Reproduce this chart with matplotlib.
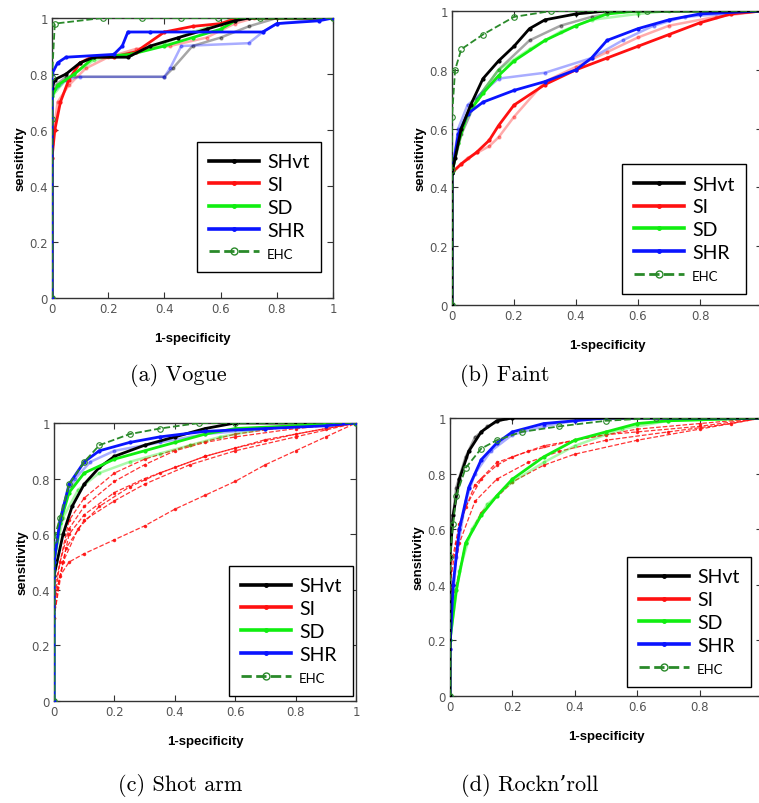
import matplotlib
matplotlib.use("Agg")
import matplotlib.pyplot as plt
from matplotlib.lines import Line2D
import numpy as np

# -------------------------------------------------------------------
# ROC points, (1-specificity, sensitivity)
# -------------------------------------------------------------------
# (a) Vogue
vogue_ehc = [(0, 0), (0, 0.64), (0, 0.79), (0.01, 0.98), (0.18, 1), (0.32, 1),
             (0.46, 1), (0.59, 1), (0.74, 1), (1, 1)]
vogue_shvt = [(0, 0), (0, 0.75), (0.01, 0.78), (0.05, 0.8), (0.1, 0.84), (0.15, 0.86),
              (0.27, 0.86), (0.35, 0.9), (0.45, 0.93), (0.55, 0.96), (0.65, 0.99),
              (0.7, 1), (1, 1)]
vogue_shvt_faint = [(0, 0.75), (0.05, 0.79), (0.4, 0.79), (0.43, 0.82), (0.5, 0.9),
                    (0.6, 0.93), (0.7, 0.97), (0.8, 1), (1, 1)]
vogue_si = [(0, 0), (0, 0.5), (0.01, 0.6), (0.03, 0.7), (0.06, 0.78), (0.1, 0.84),
            (0.14, 0.86), (0.22, 0.86), (0.3, 0.88), (0.4, 0.95), (0.5, 0.97),
            (0.6, 0.98), (0.66, 1), (1, 1)]
vogue_si_faint = [(0, 0.55), (0.02, 0.7), (0.06, 0.76), (0.12, 0.82), (0.2, 0.86),
                  (0.3, 0.89), (0.42, 0.9), (0.55, 0.93), (0.65, 0.98), (0.72, 1), (1, 1)]
vogue_sd = [(0, 0), (0, 0.72), (0.02, 0.76), (0.08, 0.8), (0.15, 0.86), (0.28, 0.87),
            (0.4, 0.9), (0.5, 0.93), (0.6, 0.96), (0.67, 1), (1, 1)]
vogue_sd_faint = [(0, 0.72), (0.05, 0.78), (0.15, 0.85), (0.3, 0.88), (0.4, 0.91),
                  (0.5, 0.95), (0.6, 0.98), (0.65, 1), (1, 1)]
vogue_shr = [(0, 0), (0, 0.8), (0.02, 0.84), (0.05, 0.86), (0.22, 0.87), (0.25, 0.9),
             (0.27, 0.95), (0.35, 0.95), (0.75, 0.95), (0.8, 0.98), (0.95, 0.99), (1, 1)]
vogue_shr_faint = [(0, 0.73), (0.05, 0.78), (0.1, 0.79), (0.4, 0.79), (0.42, 0.82),
                   (0.46, 0.9), (0.7, 0.91), (0.75, 0.95), (0.8, 0.98), (1, 1)]

# (b) Faint
faint_ehc = [(0, 0), (0, 0.46), (0, 0.64), (0.01, 0.8), (0.03, 0.87), (0.1, 0.92),
             (0.2, 0.98), (0.32, 1), (0.5, 1), (0.63, 1), (1, 1)]
faint_shvt = [(0, 0), (0, 0.45), (0.01, 0.5), (0.03, 0.6), (0.06, 0.68), (0.1, 0.77),
              (0.15, 0.83), (0.2, 0.88), (0.25, 0.94), (0.3, 0.97), (0.4, 0.99),
              (0.5, 1), (1, 1)]
faint_shvt_faint = [(0, 0.45), (0.03, 0.58), (0.08, 0.7), (0.15, 0.8), (0.25, 0.9),
                    (0.35, 0.95), (0.45, 0.98), (0.55, 1), (1, 1)]
faint_si = [(0, 0), (0, 0.45), (0.03, 0.48), (0.08, 0.52), (0.12, 0.56), (0.15, 0.61),
            (0.2, 0.68), (0.3, 0.75), (0.4, 0.8), (0.5, 0.84), (0.6, 0.88), (0.7, 0.92),
            (0.8, 0.96), (0.9, 0.99), (1, 1)]
faint_si_faint = [(0, 0.45), (0.05, 0.5), (0.12, 0.54), (0.15, 0.57), (0.2, 0.64),
                  (0.3, 0.76), (0.4, 0.81), (0.5, 0.86), (0.6, 0.91), (0.7, 0.95),
                  (0.85, 0.98), (1, 1)]
faint_sd = [(0, 0), (0, 0.45), (0.02, 0.55), (0.05, 0.65), (0.1, 0.72), (0.15, 0.78),
            (0.2, 0.83), (0.3, 0.9), (0.4, 0.95), (0.5, 0.99), (0.6, 1), (1, 1)]
faint_sd_faint = [(0, 0.45), (0.03, 0.6), (0.08, 0.7), (0.15, 0.8), (0.25, 0.87),
                  (0.35, 0.93), (0.45, 0.97), (0.6, 0.99), (0.7, 1), (1, 1)]
faint_shr = [(0, 0), (0, 0.45), (0.02, 0.58), (0.05, 0.65), (0.1, 0.69), (0.2, 0.73),
             (0.3, 0.76), (0.4, 0.8), (0.45, 0.84), (0.5, 0.9), (0.6, 0.94),
             (0.7, 0.97), (0.8, 0.99), (1, 1)]
faint_shr_faint = [(0, 0.45), (0.02, 0.6), (0.05, 0.68), (0.15, 0.77), (0.3, 0.79),
                   (0.45, 0.84), (0.55, 0.9), (0.65, 0.95), (0.75, 0.98), (1, 1)]

# (c) Shot arm
shot_ehc = [(0, 0), (0, 0.58), (0.02, 0.66), (0.05, 0.78), (0.1, 0.86), (0.15, 0.92),
            (0.25, 0.96), (0.35, 0.98), (0.48, 1), (0.6, 1), (1, 1)]
shot_shr = [(0, 0), (0, 0.5), (0.02, 0.65), (0.05, 0.78), (0.1, 0.86), (0.15, 0.9),
            (0.25, 0.93), (0.35, 0.95), (0.5, 0.97), (0.7, 0.98), (0.9, 0.99), (1, 1)]
shot_shr_faint = [(0, 0.5), (0.03, 0.7), (0.07, 0.8), (0.12, 0.86), (0.2, 0.9),
                  (0.35, 0.93), (0.5, 0.96), (0.7, 0.98), (1, 1)]
shot_sd = [(0, 0), (0, 0.5), (0.02, 0.64), (0.05, 0.75), (0.1, 0.82), (0.2, 0.87),
           (0.3, 0.9), (0.4, 0.93), (0.5, 0.96), (0.6, 0.98), (0.8, 0.99), (1, 1)]
shot_sd_faint = [(0, 0.5), (0.03, 0.66), (0.08, 0.76), (0.15, 0.82), (0.25, 0.86),
                 (0.35, 0.89), (0.45, 0.92), (0.55, 0.95), (0.7, 0.98), (1, 1)]
shot_shvt = [(0, 0), (0, 0.45), (0.03, 0.6), (0.06, 0.7), (0.1, 0.78), (0.15, 0.84),
             (0.2, 0.88), (0.3, 0.92), (0.4, 0.95), (0.5, 0.98), (0.6, 1), (1, 1)]
shot_si_1 = [(0, 0), (0, 0.35), (0.02, 0.5), (0.05, 0.62), (0.1, 0.7), (0.2, 0.79),
             (0.3, 0.85), (0.4, 0.9), (0.5, 0.93), (0.6, 0.95), (0.8, 0.98), (1, 1)]
shot_si_2 = [(0, 0.3), (0.03, 0.5), (0.08, 0.62), (0.15, 0.7), (0.25, 0.77),
             (0.35, 0.82), (0.5, 0.88), (0.7, 0.94), (0.9, 0.98), (1, 1)]
shot_si_3 = [(0, 0.3), (0.02, 0.45), (0.05, 0.5), (0.1, 0.53), (0.2, 0.58), (0.3, 0.63),
             (0.4, 0.69), (0.5, 0.74), (0.6, 0.79), (0.7, 0.85), (0.8, 0.9),
             (0.9, 0.95), (1, 1)]
shot_si_4 = [(0, 0.35), (0.05, 0.6), (0.1, 0.67), (0.2, 0.75), (0.3, 0.8), (0.4, 0.84),
             (0.5, 0.88), (0.6, 0.91), (0.8, 0.96), (1, 1)]
shot_si_5 = [(0, 0.4), (0.05, 0.65), (0.1, 0.73), (0.2, 0.82), (0.3, 0.87),
             (0.45, 0.92), (0.6, 0.96), (0.8, 0.99), (1, 1)]
shot_si_6 = [(0, 0.35), (0.04, 0.55), (0.1, 0.65), (0.2, 0.72), (0.3, 0.78),
             (0.45, 0.85), (0.6, 0.9), (0.8, 0.95), (1, 1)]

# (d) Rockn'roll
rock_ehc = [(0, 0), (0, 0.5), (0.01, 0.62), (0.02, 0.72), (0.05, 0.82), (0.1, 0.89),
            (0.15, 0.92), (0.23, 0.95), (0.35, 0.97), (0.5, 0.99), (0.66, 1), (1, 1)]
rock_shvt = [(0, 0), (0, 0.5), (0.01, 0.65), (0.03, 0.78), (0.06, 0.88), (0.1, 0.95),
             (0.15, 0.99), (0.2, 1), (1, 1)]
rock_shvt_faint = [(0, 0.55), (0.02, 0.75), (0.05, 0.86), (0.08, 0.93), (0.12, 0.97),
                   (0.18, 1), (1, 1)]
rock_shr = [(0, 0), (0, 0.17), (0.01, 0.4), (0.03, 0.6), (0.06, 0.75), (0.1, 0.85),
            (0.15, 0.91), (0.2, 0.95), (0.3, 0.98), (0.4, 0.99), (0.5, 1), (1, 1)]
rock_shr_faint = [(0, 0.2), (0.02, 0.5), (0.05, 0.7), (0.08, 0.8), (0.13, 0.88),
                  (0.2, 0.94), (0.3, 0.97), (0.45, 1), (1, 1)]
rock_sd = [(0, 0), (0, 0.2), (0.02, 0.38), (0.05, 0.55), (0.1, 0.65), (0.15, 0.72),
           (0.2, 0.78), (0.3, 0.86), (0.4, 0.92), (0.5, 0.95), (0.6, 0.98),
           (0.7, 0.99), (1, 1)]
rock_sd_faint = [(0, 0.2), (0.03, 0.45), (0.07, 0.6), (0.12, 0.69), (0.2, 0.77),
                 (0.3, 0.84), (0.4, 0.9), (0.55, 0.96), (0.7, 0.99), (1, 1)]
rock_si_1 = [(0, 0.4), (0.02, 0.55), (0.05, 0.68), (0.1, 0.78), (0.15, 0.83),
             (0.2, 0.86), (0.3, 0.9), (0.4, 0.92), (0.5, 0.94), (0.6, 0.95),
             (0.8, 0.97), (1, 1)]
rock_si_2 = [(0, 0.35), (0.03, 0.55), (0.08, 0.7), (0.15, 0.78), (0.25, 0.84),
             (0.35, 0.88), (0.5, 0.92), (0.7, 0.95), (0.9, 0.98), (1, 1)]
rock_si_3 = [(0, 0.3), (0.05, 0.55), (0.1, 0.66), (0.2, 0.77), (0.3, 0.83),
             (0.4, 0.87), (0.6, 0.92), (0.8, 0.96), (1, 1)]
rock_si_4 = [(0, 0.45), (0.03, 0.62), (0.08, 0.76), (0.15, 0.84), (0.25, 0.88),
             (0.4, 0.92), (0.6, 0.96), (0.8, 0.98), (1, 1)]

captions = ["(a) Vogue", "(b) Faint", "(c) Shot arm", "(d) Rockn\u2019roll"]
legend_labels = ["SHvt", "SI", "SD", "SHR", "EHC"]
tick_values = [0, 0.2, 0.4, 0.6, 0.8, 1]
tick_labels = ["0", "0.2", "0.4", "0.6", "0.8", "1"]

# -------------------------------------------------------------------
# Styles
# -------------------------------------------------------------------
colors = {"shvt": "black", "si": "#ff1010", "sd": "#10ee10", "shr": "#0a14ff",
          "ehc": "#2a8a2a"}

W, H = 759, 804
fig = plt.figure(figsize=(W / 100, H / 100), dpi=100)


def px_axes(left, top, right, bottom):
    return fig.add_axes([left / W, 1 - bottom / H, (right - left) / W, (bottom - top) / H])


def draw(ax, pts, key, kind="main"):
    pts = np.asarray(pts, dtype=float)
    c = colors[key]
    if key == "ehc":
        ax.plot(pts[:, 0], pts[:, 1], color=c, linestyle="--", lw=1.3,
                marker="o", ms=4, mfc="none", mew=0.8, zorder=6)
    elif kind == "main":
        ax.plot(pts[:, 0], pts[:, 1], color=c, lw=2.0, marker=".", ms=4, zorder=4)
    elif kind == "faint":
        ax.plot(pts[:, 0], pts[:, 1], color=c, lw=1.8, alpha=0.35, marker=".", ms=4,
                zorder=3)
    else:  # thin dashed
        ax.plot(pts[:, 0], pts[:, 1], color=c, lw=0.9, linestyle="--", alpha=0.85,
                marker=".", ms=3, zorder=3)


panels = [
    dict(box=(52, 19, 333, 299), cap=(178, 376), leg=(0.516, 0.093), cut=False,
         curves=[(vogue_shvt_faint, "shvt", "faint"), (vogue_si_faint, "si", "faint"),
                 (vogue_sd_faint, "sd", "faint"), (vogue_shr_faint, "shr", "faint"),
                 (vogue_si, "si", "main"), (vogue_sd, "sd", "main"),
                 (vogue_shvt, "shvt", "main"), (vogue_shr, "shr", "main"),
                 (vogue_ehc, "ehc", "main")]),
    dict(box=(452, 12, 762, 306), cap=(505, 376), leg=(0.548, 0.037), cut=True,
         curves=[(faint_shvt_faint, "shvt", "faint"), (faint_si_faint, "si", "faint"),
                 (faint_sd_faint, "sd", "faint"), (faint_shr_faint, "shr", "faint"),
                 (faint_si, "si", "main"), (faint_sd, "sd", "main"),
                 (faint_shr, "shr", "main"), (faint_shvt, "shvt", "main"),
                 (faint_ehc, "ehc", "main")]),
    dict(box=(54, 424, 356, 702), cap=(180, 786), leg=(0.58, 0.018), cut=False,
         curves=[(shot_si_1, "si", "dash"), (shot_si_2, "si", "dash"),
                 (shot_si_3, "si", "dash"), (shot_si_4, "si", "dash"),
                 (shot_si_5, "si", "dash"), (shot_si_6, "si", "dash"),
                 (shot_sd_faint, "sd", "faint"), (shot_shr_faint, "shr", "faint"),
                 (shot_shvt, "shvt", "main"), (shot_sd, "sd", "main"),
                 (shot_shr, "shr", "main"), (shot_ehc, "ehc", "main")]),
    dict(box=(450, 419, 762, 697), cap=(530, 786), leg=(0.567, 0.032), cut=True,
         curves=[(rock_si_1, "si", "dash"), (rock_si_2, "si", "dash"),
                 (rock_si_3, "si", "dash"), (rock_si_4, "si", "dash"),
                 (rock_sd_faint, "sd", "faint"), (rock_sd, "sd", "main"),
                 (rock_shr_faint, "shr", "faint"), (rock_shr, "shr", "main"),
                 (rock_shvt_faint, "shvt", "faint"), (rock_shvt, "shvt", "main"),
                 (rock_ehc, "ehc", "main")]),
]

for p, cap in zip(panels, captions):
    ax = px_axes(*p["box"])
    for pts, key, kind in p["curves"]:
        draw(ax, pts, key, kind)
    ax.set_xlim(0, 1)
    ax.set_ylim(0, 1)
    ax.set_xticks(tick_values)
    ax.set_yticks(tick_values)
    # the right-hand panels are cropped at the image edge, so no "1" there
    ax.set_xticklabels(tick_labels[:-1] + [""] if p["cut"] else tick_labels)
    ax.set_yticklabels(tick_labels)
    ax.tick_params(direction="in", top=True, right=True, length=4, width=0.8,
                   labelsize=8.5, labelcolor="#555555", color="#333333", pad=3)
    for s in ax.spines.values():
        s.set_color("#333333")
        s.set_linewidth(1.0)
    ax.set_xlabel("1-specificity", fontsize=9.5, fontweight="bold",
                  family="Liberation Sans", labelpad=12)
    ax.set_ylabel("sensitivity", fontsize=9.5, fontweight="bold",
                  family="Liberation Sans", labelpad=2)

    handles = [Line2D([], [], color=colors["shvt"], lw=2.6, marker=".", ms=5),
               Line2D([], [], color=colors["si"], lw=2.6, marker=".", ms=5),
               Line2D([], [], color=colors["sd"], lw=2.6, marker=".", ms=5),
               Line2D([], [], color=colors["shr"], lw=2.6, marker=".", ms=5),
               Line2D([], [], color=colors["ehc"], lw=2.0, ls="--", marker="o", ms=5,
                      mfc="none", mew=1.0)]
    leg = ax.legend(handles, legend_labels, loc="lower left", bbox_to_anchor=p["leg"],
                    borderaxespad=0, fancybox=False, framealpha=1, edgecolor="black",
                    handlelength=2.6, handletextpad=0.4, labelspacing=0.3,
                    borderpad=0.6, prop={"family": "Lato", "size": 14})
    leg.get_frame().set_linewidth(1.0)
    leg.get_texts()[4].set_fontsize(9.5)
    leg.set_zorder(10)

    fig.text(p["cap"][0] / W, 1 - p["cap"][1] / H, cap,
             family=["cmr10", "DejaVu Serif"],
             ha="center", va="center", fontsize=16)

fig.savefig("out.png", dpi=100)
